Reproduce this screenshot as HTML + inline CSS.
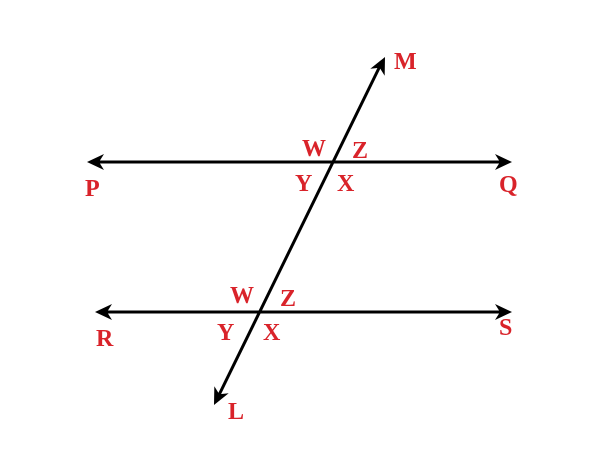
<!DOCTYPE html>
<html><head><style>html,body{margin:0;padding:0;background:#fff;}svg{display:block}</style></head>
<body>
<svg width="600" height="450" xmlns="http://www.w3.org/2000/svg">
<g stroke="#000" stroke-width="3" fill="none">
<line x1="96" y1="162" x2="504" y2="162"/>
<line x1="104" y1="312" x2="504" y2="312"/>
<line x1="380" y1="66" x2="218" y2="397"/>
</g>
<g fill="#000">
<path d="M87,162 L104,154 L99,162 L104,170 Z"/>
<path d="M512,162 L495,154 L500,162 L495,170 Z"/>
<path d="M95,312 L112,304 L107,312 L112,320 Z"/>
<path d="M512,312 L495,304 L500,312 L495,320 Z"/>
<g transform="translate(385,57) rotate(-63.8)"><path d="M0,0 L-17,-8 L-12,0 L-17,8 Z"/></g>
<g transform="translate(214,405) rotate(116.2)"><path d="M0,0 L-17,-8 L-12,0 L-17,8 Z"/></g>
</g>
<g fill="#d9232a" font-family="Liberation Serif, serif" font-weight="bold" font-size="24">
<text x="394" y="69">M</text>
<text x="302" y="156">W</text>
<text x="352" y="158">Z</text>
<text x="295" y="191">Y</text>
<text x="337" y="191">X</text>
<text x="85" y="196">P</text>
<text x="499" y="192">Q</text>
<text x="230" y="303">W</text>
<text x="280" y="306">Z</text>
<text x="217" y="340">Y</text>
<text x="263" y="340">X</text>
<text x="96" y="346">R</text>
<text x="499" y="335">S</text>
<text x="228" y="419">L</text>
</g>
</svg>
</body></html>
